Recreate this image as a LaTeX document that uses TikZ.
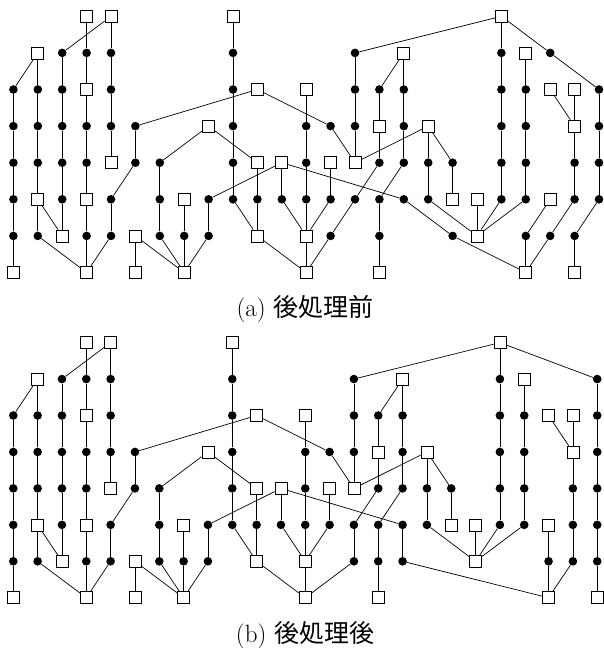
\documentclass[tikz,border=0pt]{standalone}
\usepackage{fontspec}
\newfontfamily\cjk{Noto Sans CJK JP}
\tikzset{
  dt/.style={circle,fill=black,draw=none,minimum size=8.6pt,inner sep=0pt},
  sq/.style={rectangle,draw=black,fill=white,line width=0.7pt,minimum size=12pt,inner sep=0pt},
  ed/.style={draw=black,line width=0.7pt},
  captext/.style={font=\fontsize{25}{30}\selectfont,inner sep=0pt,anchor=base}
}
\def\CommonNodes{0/2/dt,0/3/dt,0/4/dt,0/5/dt,0/6/dt,0/7/sq,
1/1/sq,1/2/dt,1/3/dt,1/4/dt,1/5/sq,1/6/dt,
2/1/dt,2/2/dt,2/3/dt,2/4/dt,2/5/dt,2/6/sq,
3/0/sq,3/1/dt,3/2/sq,3/3/dt,3/4/dt,3/5/sq,3/6/dt,3/7/sq,
4/0/sq,4/1/dt,4/2/dt,4/3/dt,4/4/sq,4/5/dt,4/6/dt,
5/3/dt,5/4/dt,5/6/sq,5/7/sq,
6/4/dt,6/5/dt,6/6/dt,
7/5/sq,7/6/dt,7/7/sq,
8/3/sq,8/5/dt,8/6/dt,
9/0/sq,9/1/dt,9/2/dt,9/3/dt,9/4/dt,9/5/dt,
10/2/sq,10/4/sq,10/5/dt,10/6/sq,
11/4/sq,11/5/dt,
12/2/sq,12/3/dt,12/4/dt,12/5/dt,12/6/sq,12/7/sq,
13/3/dt,13/4/sq,13/5/dt,
14/1/dt,14/2/dt,14/3/dt,14/4/sq,14/5/dt,
15/2/dt,15/3/sq,15/4/dt,15/5/dt,15/6/dt,15/7/sq,
16/1/sq,16/2/dt,16/3/dt,16/4/dt,16/5/dt,
17/3/sq,17/4/dt,17/5/dt,
18/4/dt,18/5/sq,
19/5/sq,19/6/sq,
20/0/sq,20/1/dt,20/2/dt,20/3/dt,20/4/dt,20/5/dt,
21/1/sq,21/2/dt,21/3/dt,21/4/dt,21/5/dt,
22/2/sq,22/5/sq,
23/2/sq,23/3/sq,23/4/dt,23/5/dt,
24/2/dt,24/3/dt,24/4/dt,24/5/dt}
\def\TopNodes{13/6/dt,18/6/dt,21/6/dt,21/7/sq,22/1/dt,22/6/dt,23/6/dt,23/7/sq}
\def\BotNodes{14/6/dt,16/6/dt,22/6/dt,22/7/sq,23/6/dt,24/1/dt,24/6/dt,24/7/sq}
\def\CommonEdges{0-2/0-3,0-3/0-4,0-4/0-5,0-5/0-6,0-6/0-7,
1-1/1-2,1-2/1-3,1-3/1-4,1-4/1-5,1-5/1-6,
2-1/2-2,2-2/2-3,2-3/2-4,2-4/2-5,2-5/2-6,
3-0/3-1,3-1/3-2,3-2/3-3,3-3/3-4,3-4/3-5,3-5/3-6,3-6/3-7,
4-0/4-1,4-1/4-2,4-2/4-3,4-3/4-4,4-5/4-6,
5-3/5-4,5-6/5-7,
6-4/6-5,6-5/6-6,
7-5/7-6,7-6/7-7,
8-5/8-6,
9-0/9-1,9-1/9-2,9-2/9-3,9-3/9-4,9-4/9-5,
10-4/10-5,10-5/10-6,
11-4/11-5,
12-2/12-3,12-3/12-4,12-4/12-5,12-5/12-6,12-6/12-7,
13-4/13-5,
14-1/14-2,14-2/14-3,14-3/14-4,
15-2/15-3,15-3/15-4,15-5/15-6,15-6/15-7,
16-1/16-2,16-2/16-3,16-3/16-4,
17-3/17-4,17-4/17-5,
18-4/18-5,
19-5/19-6,
20-0/20-1,20-1/20-2,20-2/20-3,20-3/20-4,20-4/20-5,
21-1/21-2,21-2/21-3,21-3/21-4,21-4/21-5,
23-2/23-3,23-3/23-4,23-4/23-5,
24-2/24-3,24-3/24-4,24-4/24-5,
4-0/2-1,1-1/0-2,1-5/2-6,1-6/3-7,4-6/3-7,5-4/4-5,5-3/10-2,6-4/8-3,
6-6/7-7,5-6/7-7,8-6/7-7,8-3/10-4,11-4/8-5,11-4/16-5,9-5/10-6,10-6/12-7,
11-5/12-6,13-5/12-6,15-4/14-5,10-2/13-3,13-3/14-4,14-4/17-3,14-1/20-0,
16-1/15-2,16-4/15-5,17-3/18-4,17-5/19-6,20-5/19-6,21-5/19-6,22-2/23-3}
\def\TopEdges{14-5/13-6,13-6/12-7,16-5/18-6,18-6/21-7,20-0/22-1,22-1/24-2,
22-5/21-6,21-6/21-7,23-5/22-6,22-6/21-7,24-5/23-6,23-6/23-7}
\def\BotEdges{14-5/14-6,14-6/12-7,16-5/16-6,16-6/22-7,20-0/24-1,24-1/24-2,
22-5/22-6,22-6/22-7,23-5/23-6,23-6/22-7,24-5/24-6,24-6/24-7}
\begin{document}
\begin{tikzpicture}
\useasboundingbox (0pt,0pt) rectangle (603pt,-648pt);
% top panel
\begin{scope}[shift={(13.4pt,-16.3pt)},x=24.4pt,y=-36.6pt]
  \foreach \c/\r/\t in \CommonNodes {\node[\t] (t-\c-\r) at (\c,\r) {};}
  \foreach \c/\r/\t in \TopNodes {\node[\t] (t-\c-\r) at (\c,\r) {};}
  \foreach \a/\b in \CommonEdges {\path[ed] (t-\a) -- (t-\b);}
  \foreach \a/\b in \TopEdges {\path[ed] (t-\a) -- (t-\b);}
\end{scope}
% bottom panel
\begin{scope}[shift={(13.3pt,-342.6pt)},x=24.33pt,y=-36.45pt]
  \foreach \c/\r/\t in \CommonNodes {\node[\t] (b-\c-\r) at (\c,\r) {};}
  \foreach \c/\r/\t in \BotNodes {\node[\t] (b-\c-\r) at (\c,\r) {};}
  \foreach \a/\b in \CommonEdges {\path[ed] (b-\a) -- (b-\b);}
  \foreach \a/\b in \BotEdges {\path[ed] (b-\a) -- (b-\b);}
\end{scope}
\node[captext] (capA) at (305pt,-316pt) {(a) {\cjk 後処理前}};
\node[captext] (capB) at (305pt,-642pt) {(b) {\cjk 後処理後}};
\end{tikzpicture}
\end{document}
